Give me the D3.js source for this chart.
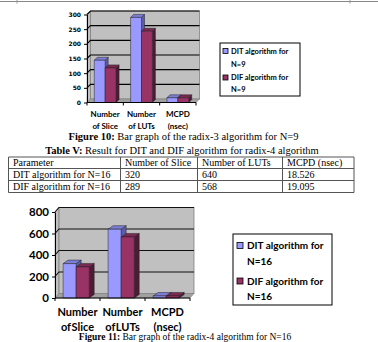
<!DOCTYPE html>
<html>
<head>
<meta charset="utf-8">
<script src="https://cdn.jsdelivr.net/npm/d3@7"></script>
<style>
  html, body { margin: 0; padding: 0; background: #fff; }
  svg { display: block; }
</style>
</head>
<body>
<svg id="page" width="378" height="342"></svg>
<script>
// ---------- data ----------
const categories = ["Number of Slice", "Number of LUTs", "MCPD (nsec)"];
const categoryLines = [["Number", "of Slice"], ["Number", "of LUTs"], ["MCPD", "(nsec)"]];

const seriesN9 = ["DIT algorithm for N=9", "DIF algorithm for N=9"];
const legendLinesN9 = [["DIT algorithm for", "N=9"], ["DIF algorithm for", "N=9"]];
const ditN9 = [144, 290, 16];
const difN9 = [118, 243, 16];
const ticksN9 = [0, 50, 100, 150, 200, 250, 300];

const seriesN16 = ["DIT algorithm for N=16", "DIF algorithm for N=16"];
const legendLinesN16 = [["DIT algorithm for", "N=16"], ["DIF algorithm for", "N=16"]];
const ditN16 = [320, 640, 18.526];
const difN16 = [289, 568, 19.095];
const ticksN16 = [0, 200, 400, 600, 800];

const tableHeader = ["Parameter", "Number of Slice", "Number of LUTs", "MCPD (nsec)"];
const tableRows = [
  ["DIT algorithm for N=16", "320", "640", "18.526"],
  ["DIF algorithm for N=16", "289", "568", "19.095"]
];

const caption10 = ["Figure 10:", " Bar graph of the radix-3 algorithm for N=9"];
const captionTable = ["Table V:", " Result for DIT and DIF algorithm for radix-4 algorithm"];
const caption11 = ["Figure 11:", " Bar graph of the radix-4 algorithm for N=16"];

// ---------- styles ----------
const colors = {
  front: ["#9999ff", "#993366"],
  top:   ["#7d7dd6", "#7a2952"],
  side:  ["#5c5ca8", "#4f1a35"]
};
const wallFill = "#c0c0c0";
const floorFill = "#a0a0a0";
const serif = "'Liberation Serif','Times New Roman',serif";

const svg = d3.select("#page");
svg.append("rect").attr("width", 378).attr("height", 342).attr("fill", "#fff");

// top border remnant
svg.append("line").attr("x1", 0).attr("x2", 378).attr("y1", 1.5).attr("y2", 1.5)
  .attr("stroke", "#888").attr("stroke-width", 1);
[17, 350].forEach(xv => svg.append("line").attr("x1", xv).attr("x2", xv).attr("y1", 0).attr("y2", 3.5)
  .attr("stroke", "#999").attr("stroke-width", 1));

function drawChart(o) {
  const g = svg.append("g");
  const x = d3.scaleBand().domain(categories).range(o.xRange);
  const y = d3.scaleLinear().domain(o.yDomain).range(o.yRange);
  const [dx, dy] = o.wallDepth;
  const x0 = o.xRange[0], x1 = o.xRange[1];
  const yb = y(o.yDomain[0]), yt = y(o.yDomain[1]);

  // side wall
  g.append("path")
    .attr("d", `M${x0},${yb}L${x0},${yt}L${x0 + dx},${yt + dy}L${x0 + dx},${yb + dy}Z`)
    .attr("fill", wallFill).attr("stroke", "#808080").attr("stroke-width", 0.6);
  // back wall
  g.append("rect").attr("x", x0 + dx).attr("y", yt + dy)
    .attr("width", x1 - x0).attr("height", yb - yt)
    .attr("fill", wallFill).attr("stroke", "#808080").attr("stroke-width", 0.8);
  // floor
  g.append("path")
    .attr("d", `M${x0},${yb}L${x1},${yb}L${x1 + dx},${yb + dy}L${x0 + dx},${yb + dy}Z`)
    .attr("fill", floorFill).attr("stroke", "#808080").attr("stroke-width", 0.6);
  // gridlines
  o.ticks.filter(t => t > o.yDomain[0]).forEach(t => {
    g.append("path")
      .attr("d", `M${x0},${y(t)}L${x0 + dx},${y(t) + dy}L${x1 + dx},${y(t) + dy}`)
      .attr("fill", "none").attr("stroke", o.gridColor).attr("stroke-width", 1.1);
  });

  // bars
  const bw = x.bandwidth();
  const xs = d3.scaleBand().domain(d3.range(o.values.length)).range([bw * o.inner[0], bw * o.inner[1]]);
  const [bdx, bdy] = o.barDepth;
  categories.forEach((c, ci) => {
    o.values.forEach((vals, si) => {
      const bx = x(c) + xs(si), w = xs.bandwidth();
      const ty = y(vals[ci]), by = y(0);
      const bg = g.append("g").attr("stroke", "#222").attr("stroke-width", 0.5).attr("stroke-linejoin", "round");
      bg.append("path")
        .attr("d", `M${bx + w},${ty}L${bx + w + bdx},${ty + bdy}L${bx + w + bdx},${by + bdy}L${bx + w},${by}Z`)
        .attr("fill", colors.side[si]);
      bg.append("path")
        .attr("d", `M${bx},${ty}L${bx + w},${ty}L${bx + w + bdx},${ty + bdy}L${bx + bdx},${ty + bdy}Z`)
        .attr("fill", colors.top[si]);
      bg.append("rect").attr("x", bx).attr("y", ty).attr("width", w).attr("height", by - ty)
        .attr("fill", colors.front[si]);
    });
  });

  // y axis
  const ya = g.append("g").attr("transform", `translate(${x0},0)`)
    .call(d3.axisLeft(y).tickValues(o.ticks).tickSize(o.tickLen).tickPadding(o.tickPad).tickSizeOuter(0));
  ya.select(".domain").attr("stroke", "#000").attr("stroke-width", 1);
  ya.selectAll(".tick line").attr("stroke", "#000");
  ya.selectAll(".tick text").attr("font-family", o.tickFont).attr("font-weight", "bold")
    .attr("font-size", o.tickSize).attr("fill", "#000");

  // x axis
  g.append("line").attr("x1", x0).attr("x2", x1).attr("y1", yb).attr("y2", yb)
    .attr("stroke", "#000").attr("stroke-width", 1);
  categories.map(c => x(c)).concat([x1]).forEach(xv => {
    g.append("line").attr("x1", xv).attr("x2", xv).attr("y1", yb).attr("y2", yb + 3)
      .attr("stroke", "#000").attr("stroke-width", 1);
  });
  categories.forEach((c, ci) => {
    const t = g.append("text").attr("text-anchor", "middle")
      .attr("font-family", o.catFont).attr("font-weight", "bold").attr("font-size", o.catSize)
      .attr("word-spacing", o.wordSpacing).attr("fill", "#000");
    categoryLines[ci].forEach((ln, li) => {
      t.append("tspan").attr("x", x(c) + bw / 2).attr("y", o.catY[li]).text(ln);
    });
  });

  // legend
  const L = o.legend;
  g.append("rect").attr("x", L.x).attr("y", L.y).attr("width", L.w).attr("height", L.h)
    .attr("fill", "#fff").attr("stroke", "#000").attr("stroke-width", 1);
  o.legendLines.forEach((lines, si) => {
    const cy = L.rowY[si * 2];
    g.append("rect").attr("x", L.x + L.mx).attr("y", cy - L.ms / 2).attr("width", L.ms).attr("height", L.ms)
      .attr("fill", colors.front[si]).attr("stroke", "#000").attr("stroke-width", 0.8);
    lines.forEach((ln, li) => {
      g.append("text").attr("x", L.x + L.tx).attr("y", L.rowY[si * 2 + li]).attr("dy", "0.35em")
        .attr("font-family", o.catFont).attr("font-weight", "bold").attr("font-size", L.fs)
        .attr("fill", "#000").text(ln);
    });
  });
}

// ---------- chart N=9 ----------
drawChart({
  values: [ditN9, difN9],
  xRange: [87, 196], yRange: [102.5, 14.5], yDomain: [0, 300], ticks: ticksN9,
  wallDepth: [3.5, -3.5], barDepth: [3, -3], inner: [0.2, 0.8],
  gridColor: "#000", tickLen: 3, tickPad: 3,
  tickFont: "'DejaVu Sans',sans-serif", tickSize: 6,
  catFont: "Lato,'Open Sans',sans-serif", catSize: 8, catY: [116.5, 128.5], wordSpacing: 0,
  legendLines: legendLinesN9,
  legend: { x: 220, y: 43, w: 80, h: 53, mx: 3, ms: 5, tx: 11, fs: 7.5, rowY: [51, 64, 77.5, 89] }
});

// ---------- chart N=16 ----------
drawChart({
  values: [ditN16, difN16],
  xRange: [55, 190], yRange: [298, 212], yDomain: [0, 800], ticks: ticksN16,
  wallDepth: [4, -4.5], barDepth: [5, -3.5], inner: [0.18, 0.76],
  gridColor: "#111", tickLen: 3, tickPad: 3,
  tickFont: "Lato,'Open Sans',sans-serif", tickSize: 11.5,
  catFont: "Lato,'Open Sans',sans-serif", catSize: 11, catY: [316, 331], wordSpacing: -2,
  legendLines: legendLinesN16,
  legend: { x: 233, y: 234, w: 99, h: 71, mx: 4, ms: 6, tx: 14, fs: 10, rowY: [245.5, 261.5, 281, 296] }
});

// ---------- captions ----------
function caption(parts, cx, yb, size) {
  const t = svg.append("text").attr("x", cx).attr("y", yb).attr("text-anchor", "middle")
    .attr("font-family", serif).attr("font-size", size).attr("fill", "#000");
  t.append("tspan").attr("font-weight", "bold").text(parts[0]);
  t.append("tspan").text(parts[1]);
}
caption(caption10, 183.5, 140, 10.5);
caption(captionTable, 182, 153.5, 10.5);
caption(caption11, 185, 339.5, 9.5);

// ---------- table ----------
const colX = [8.5, 120.5, 197.5, 282.5, 354];
const rowY = [157, 168.5, 180.5, 192.5];
const tg = svg.append("g").attr("stroke", "#555").attr("stroke-width", 1);
rowY.forEach(yv => tg.append("line").attr("x1", colX[0]).attr("x2", colX[4]).attr("y1", yv).attr("y2", yv));
colX.forEach(xv => tg.append("line").attr("x1", xv).attr("x2", xv).attr("y1", rowY[0]).attr("y2", rowY[3]));
[tableHeader].concat(tableRows).forEach((row, ri) => {
  row.forEach((cell, ci) => {
    svg.append("text").attr("x", colX[ci] + 4.5).attr("y", rowY[ri] + 9)
      .attr("font-family", serif).attr("font-size", 10).attr("fill", "#000").text(cell);
  });
});
</script>
</body>
</html>
